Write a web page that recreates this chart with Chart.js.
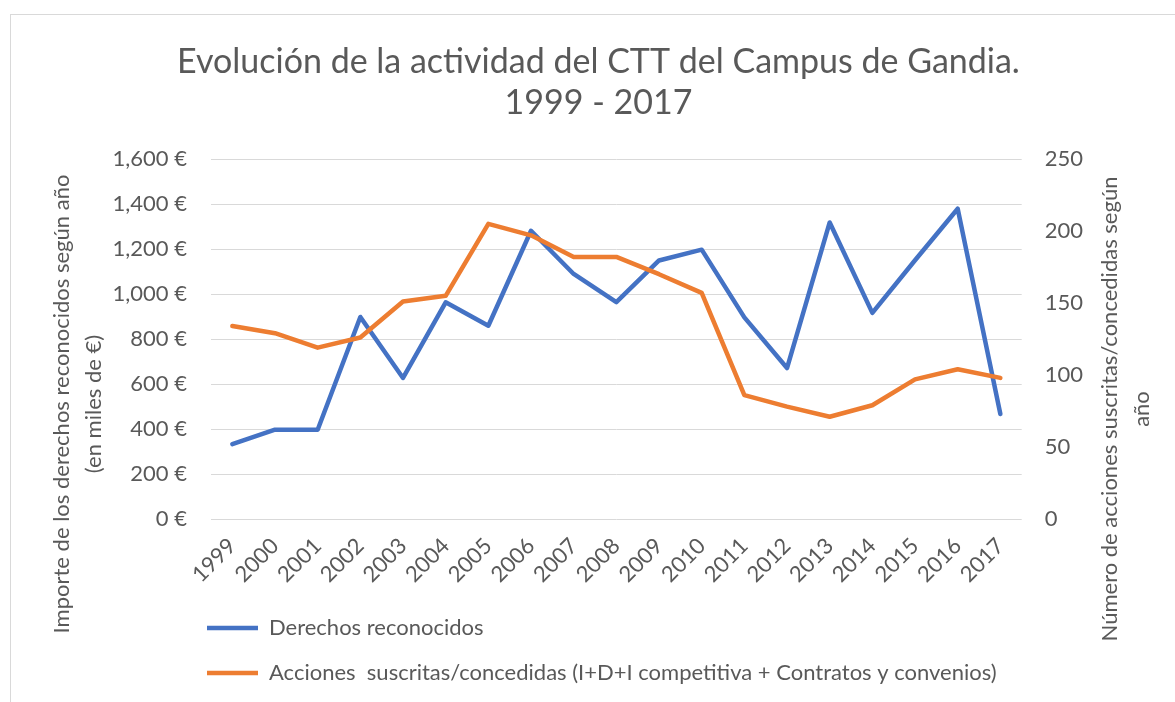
<!DOCTYPE html>
<html>
<head>
<meta charset="utf-8">
<script src="https://cdn.jsdelivr.net/npm/chart.js@4.4.1/dist/chart.umd.min.js"></script>
<style>
  html, body { margin: 0; padding: 0; background: #ffffff; }
  #wrap { width: 1175px; height: 702px; position: relative; }
</style>
</head>
<body>
<div id="wrap"><canvas id="c" width="1175" height="702"></canvas></div>
<script>
const years = ['1999','2000','2001','2002','2003','2004','2005','2006','2007','2008','2009','2010','2011','2012','2013','2014','2015','2016','2017'];
const derechos = [333, 397, 397, 898, 627, 963, 859, 1281, 1089, 964, 1149, 1197, 896, 671, 1318, 916, 1150, 1379, 467];
const acciones = [134, 129, 119, 126, 151, 155, 205, 197, 182, 182, 170, 157, 86, 78, 71, 79, 97, 104, 98];
const titleLines = ['Evolución de la actividad del CTT del Campus de Gandia.', '1999 - 2017'];
const leftTitle = ['Importe de los derechos reconocidos según año', '(en miles de €)'];
const rightTitle = ['Número de acciones suscritas/concedidas según', 'año'];
const seriesNames = ['Derechos reconocidos', 'Acciones  suscritas/concedidas (I+D+I competitiva + Contratos y convenios)'];

const FONT = 'Lato';
const TXT = '#595959';
const GRID = '#D9D9D9';
const FS = 22;

const framePlugin = {
  id: 'frame',
  beforeDraw(chart) {
    const ctx = chart.ctx;
    ctx.save();
    ctx.fillStyle = '#ffffff';
    ctx.fillRect(0, 0, chart.width, chart.height);
    ctx.strokeStyle = '#D9D9D9';
    ctx.lineWidth = 1;
    ctx.strokeRect(10.5, 14.5, 1400, 900);
    ctx.restore();
  }
};

const axisTitlePlugin = {
  id: 'axisTitles',
  afterLayout(chart) {
    const lg = chart.legend;
    if (lg) { lg.left = 184; lg.right = 1170; lg.width = lg.right - lg.left; }
  },
  afterDraw(chart) {
    const ctx = chart.ctx;
    ctx.save();
    ctx.fillStyle = TXT;
    ctx.font = FS + 'px ' + FONT;
    ctx.textAlign = 'center';
    ctx.textBaseline = 'middle';
    const draw = (lines, xs, yc) => {
      lines.forEach((t, i) => {
        ctx.save();
        ctx.translate(xs[i], yc);
        ctx.rotate(-Math.PI / 2);
        ctx.fillText(t, 0, 0);
        ctx.restore();
      });
    };
    draw(leftTitle, [62, 94], 404);
    draw(rightTitle, [1110, 1142], 409);
    ctx.restore();
  }
};

new Chart(document.getElementById('c'), {
  type: 'line',
  data: {
    labels: years,
    datasets: [
      {
        label: seriesNames[0], data: derechos, yAxisID: 'y',
        borderColor: '#4472C4', backgroundColor: '#4472C4', borderWidth: 4.5,
        borderCapStyle: 'round', borderJoinStyle: 'round',
        pointRadius: 0, tension: 0, order: 1
      },
      {
        label: seriesNames[1], data: acciones, yAxisID: 'y1',
        borderColor: '#ED7D31', backgroundColor: '#ED7D31', borderWidth: 4.5,
        borderCapStyle: 'round', borderJoinStyle: 'round',
        pointRadius: 0, tension: 0, order: 0
      }
    ]
  },
  options: {
    responsive: false,
    animation: false,
    devicePixelRatio: 1,
    layout: { padding: { left: 22, right: 0, top: 0, bottom: 8 } },
    plugins: {
      tooltip: { enabled: false },
      title: {
        display: true,
        text: titleLines,
        color: TXT,
        font: { family: FONT, size: 34, weight: 'normal', lineHeight: '41px' },
        padding: { top: 41.5, bottom: 35.5 }
      },
      legend: {
        display: true,
        position: 'bottom',
        align: 'start',
        fullSize: false,
        labels: {
          color: TXT,
          font: { family: FONT, size: FS },
          usePointStyle: true,
          pointStyle: 'line',
          pointStyleWidth: 51,
          boxWidth: 51,
          padding: 23,
          sort: (a, b) => a.datasetIndex - b.datasetIndex
        }
      }
    },
    scales: {
      x: {
        offset: true,
        grid: { display: false, drawTicks: false, offset: true },
        border: { display: false },
        ticks: {
          color: TXT, font: { family: FONT, size: FS },
          autoSkip: false, maxRotation: 45, minRotation: 45, padding: 14
        },
        afterFit(s) { s.height = 75; }
      },
      y: {
        position: 'left',
        min: 0, max: 1600,
        grid: { color: GRID, lineWidth: 1, drawTicks: false },
        border: { display: false },
        ticks: {
          stepSize: 200, color: TXT, font: { family: FONT, size: FS }, padding: 24,
          callback: v => v.toLocaleString('en-US') + ' €'
        },
        afterFit(s) { s.width = 189; }
      },
      y1: {
        position: 'right',
        min: 0, max: 250,
        grid: { drawOnChartArea: false, drawTicks: false },
        border: { display: false },
        ticks: { stepSize: 50, color: TXT, font: { family: FONT, size: FS }, padding: 23 },
        afterFit(s) { s.width = 153.3; }
      }
    }
  },
  plugins: [framePlugin, axisTitlePlugin]
});
</script>
</body>
</html>
